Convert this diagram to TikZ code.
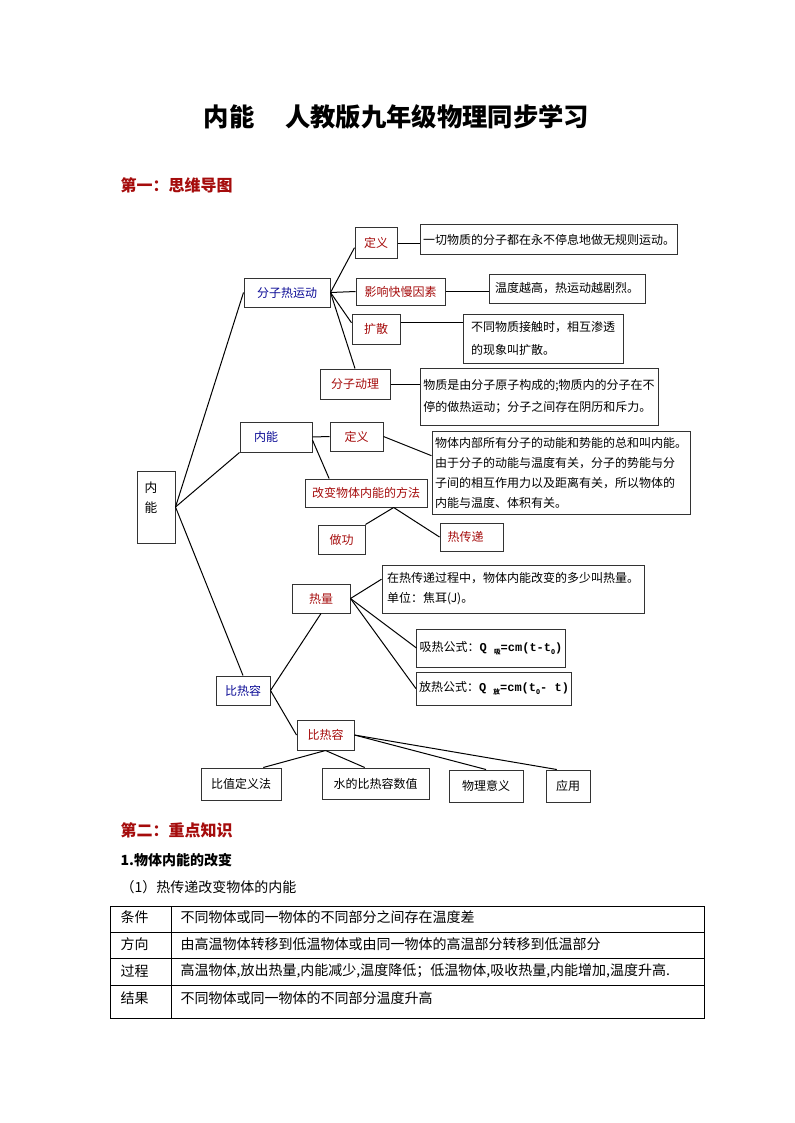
\documentclass[tikz,border=0pt]{standalone}
\usepackage{fontspec}
\setmainfont{Noto Sans CJK SC}
\setmonofont{Liberation Mono}
\usepackage{xcolor}
\usetikzlibrary{positioning,calc}

\definecolor{mapred}{RGB}{165,12,12}
\definecolor{mapblue}{RGB}{12,12,150}
\newlength{\px}
\setlength{\px}{0.75pt}
\newcommand{\lowsub}[1]{\raisebox{-0.5ex}{\rmfamily\fontsize{5pt}{5pt}\selectfont #1}}

\begin{document}
\begin{tikzpicture}[
  x=0.75pt, y=-0.75pt,
  box/.style={rectangle, draw=black!80, line width=0.75pt, inner sep=2pt,
              font=\fontsize{9pt}{15pt}\selectfont},
  topicbox/.style={box, text=mapblue},
  subbox/.style={box, text=mapred},
  notebox/.style={box, align=left, text=black},
  link/.style={line width=0.75pt},
  headline/.style={anchor=west, text=mapred,
              font=\fontsize{12pt}{14pt}\selectfont\bfseries},
  cell/.style={anchor=west, font=\fontsize{10.5pt}{12pt}\selectfont}
]
\useasboundingbox (0,0) rectangle (794,1123);

% title and first heading
\node[font=\fontsize{19pt}{22pt}\selectfont\bfseries] (title) at (396.5,117)
  {内能\hspace{23pt}人教版九年级物理同步学习};
\node[headline] (head1) at (116,185) {第一：思维导图};

% mind map
\node[box, minimum width=38\px, minimum height=72\px] (root) at (156,507) {};
\node[align=center, inner sep=0pt, font=\fontsize{9.5pt}{20\px}\selectfont] (rootlbl) at (151,498) {内\\能};

\node[topicbox, minimum width=86\px, minimum height=29\px] (heat) at (287,292.5) {分子热运动};
\node[subbox, minimum width=42\px, minimum height=30\px] (def1) at (376,243) {定义};
\node[notebox, minimum width=256\px, minimum height=29\px] (txt1) at (549,239.5)
  {一切物质的分子都在永不停息地做无规则运动。};
\node[subbox, minimum width=89\px, minimum height=27\px] (fact) at (400.5,291.5) {影响快慢因素};
\node[notebox, minimum width=156\px, minimum height=29\px] (txt2) at (567,288.5)
  {温度越高，热运动越剧烈。};
\node[subbox, minimum width=48\px, minimum height=30\px] (diff) at (376,329) {扩散};
\node[notebox, minimum width=160\px, minimum height=49\px,
      font=\fontsize{9pt}{17pt}\selectfont] (txt3) at (543,338.5)
  {不同物质接触时，相互渗透\\的现象叫扩散。};
\node[subbox, minimum width=70\px, minimum height=30\px] (theory) at (355,384) {分子动理};
\node[notebox, minimum width=238\px, minimum height=57\px,
      font=\fontsize{9pt}{17pt}\selectfont] (txt4) at (539,396.5)
  {物质是由分子原子构成的;物质内的分子在不\\停的做热运动；分子之间存在阴历和斥力。};

\node[topicbox, minimum width=72\px, minimum height=30\px] (inner) at (276,437) {内能\rule{20\px}{0pt}};
\node[subbox, minimum width=53\px, minimum height=29\px] (def2) at (356.5,436.5) {定义};
\node[notebox, minimum width=258\px, minimum height=83\px] (txt5) at (561,472.5)
  {物体内部所有分子的动能和势能的总和叫内能。\\由于分子的动能与温度有关，分子的势能与分\\子间的相互作用力以及距离有关，所以物体的\\内能与温度、体积有关。};
\node[subbox, minimum width=122\px, minimum height=28\px] (change) at (366,493) {改变物体内能的方法};
\node[subbox, minimum width=47\px, minimum height=29\px] (work) at (341.5,539.5) {做功};
\node[subbox, minimum width=63\px, minimum height=28\px] (trans) at (471.5,537) {热传递\rule{12\px}{0pt}};

\node[subbox, minimum width=58\px, minimum height=29\px] (qty) at (321,598.5) {热量};
\node[notebox, minimum width=262\px, minimum height=48\px] (txt6) at (513,589)
  {在热传递过程中，物体内能改变的多少叫热量。\\单位：焦耳(J)。};
\node[notebox, minimum width=146\px, minimum height=38\px] (absorb) at (491,648)
  {吸热公式：{\ttfamily\bfseries Q \lowsub{吸}=cm(t-t\lowsub{0})}};
\node[notebox, minimum width=154\px, minimum height=33\px] (release) at (494,688.5)
  {放热公式：{\ttfamily\bfseries Q \lowsub{放}=cm(t\lowsub{0}- t)}};

\node[topicbox, minimum width=54\px, minimum height=29\px] (cap) at (243,690.5) {比热容};
\node[subbox, minimum width=57\px, minimum height=30\px] (cap2) at (325.5,735) {比热容};
\node[notebox, minimum width=80\px, minimum height=32\px] (ratio) at (241,784) {比值定义法};
\node[notebox, minimum width=107\px, minimum height=31\px] (water) at (375.5,783.5) {水的比热容数值};
\node[notebox, minimum width=74\px, minimum height=32\px] (mean) at (486,786) {物理意义};
\node[notebox, minimum width=44\px, minimum height=32\px] (use) at (568,786) {应用};

% connectors
\draw[link] (root.east) -- (heat.west);
\draw[link] (root.east) -- (inner.south west);
\draw[link] (root.east) -- (cap.north);

\coordinate (diffout) at ($(diff.east)!0.4!(diff.north east)$);
\draw[link] (heat.east) -- ($(def1.west)!0.3!(def1.south west)$);
\draw[link] (heat.east) -- (fact.west);
\draw[link] (heat.east) -- ($(diff.west)!0.4!(diff.north west)$);
\draw[link] (heat.east) -- (theory.north);
\draw[link] (def1.east) -- (def1.east -| txt1.west);
\draw[link] (fact.east) -- (fact.east -| txt2.west);
\draw[link] (diffout) -- (diffout -| txt3.west);
\draw[link] (theory.east) -- (theory.east -| txt4.west);

\draw[link] (inner.east) -- (def2.west);
\draw[link] ($(inner.east)!0.2!(inner.south east)$) -- ($(change.north west)!0.2!(change.north east)$);
\draw[link] (def2.east) -- ($(txt5.west)!0.4!(txt5.north west)$);
\draw[link] ($(change.south)!0.45!(change.south east)$) -- (work.north east);
\draw[link] ($(change.south)!0.45!(change.south east)$) -- (trans.west);

\draw[link] (cap.east) -- (qty.south);
\draw[link] (cap.east) -- (cap2.west);
\draw[link] (qty.east) -- ($(txt6.west)!0.4!(txt6.north west)$);
\draw[link] (qty.east) -- (absorb.west);
\draw[link] (qty.east) -- (release.west);

\draw[link] (cap2.south) -- ($(ratio.north)!0.55!(ratio.north east)$);
\draw[link] (cap2.south) -- ($(water.north)!0.2!(water.north west)$);
\draw[link] (cap2.east) -- (mean.north);
\draw[link] (cap2.east) -- ($(use.north west)!0.25!(use.north east)$);

% second part
\node[headline] (head2) at (116,830) {第二：重点知识};
\node[anchor=west, font=\fontsize{10.5pt}{12pt}\selectfont\bfseries] (sec1) at (116,860) {1.物体内能的改变};
\node[cell] (sec11) at (116,887) {（1）热传递改变物体的内能};

% table
\draw[link] (110,906) rectangle (704,1018);
\foreach \y in {932,958,985}
  \draw[link] (110,\y) -- (704,\y);
\draw[link] (171,906) -- (171,1018);

\node[cell] (k1) at (116,917) {条件};
\node[cell] (k2) at (116,944) {方向};
\node[cell] (k3) at (116,971) {过程};
\node[cell] (k4) at (116,998) {结果};
\node[cell] (v1) at (176,917) {不同物体或同一物体的不同部分之间存在温度差};
\node[cell] (v2) at (176,944) {由高温物体转移到低温物体或由同一物体的高温部分转移到低温部分};
\node[cell] (v3) at (176,971) {高温物体,放出热量,内能减少,温度降低；低温物体,吸收热量,内能增加,温度升高.};
\node[cell] (v4) at (176,998) {不同物体或同一物体的不同部分温度升高};
\end{tikzpicture}
\end{document}
